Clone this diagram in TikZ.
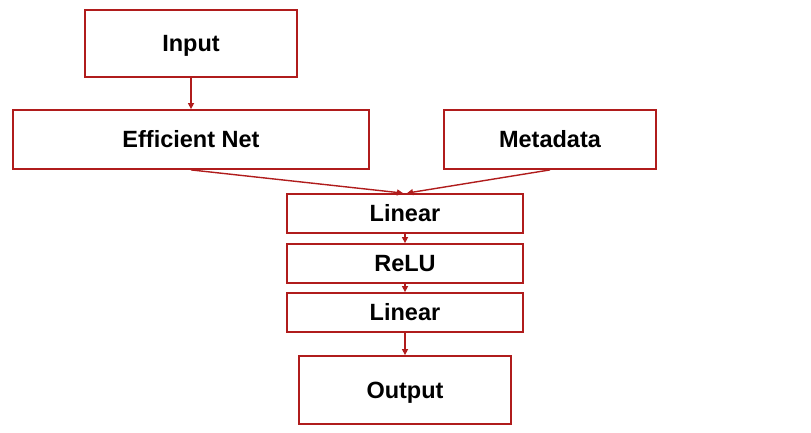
\documentclass[tikz,border=0pt]{standalone}
\usepackage{fontspec}
\setmainfont{Liberation Sans}
\usetikzlibrary{arrows.meta}
\definecolor{boxred}{HTML}{B01C1C}
\begin{document}
\begin{tikzpicture}[x=1pt,y=-1pt,
  blk/.style={draw=boxred,line width=1.8pt,fill=white,inner sep=0pt,
    text height=16.8pt,text depth=0pt,
    font=\fontsize{23.5}{27}\selectfont\bfseries,text=black},
  conn/.style={draw=boxred,line width=1.4pt,-{Triangle[length=6pt,width=6pt]}}]
\useasboundingbox (0,0) rectangle (811,432);
\node[blk,minimum width=212pt,minimum height=67pt] (in) at (191,43.5) {Input};
\node[blk,minimum width=356pt,minimum height=59pt] (eff) at (191,139.5) {Efficient Net};
\node[blk,minimum width=212pt,minimum height=59pt] (meta) at (550,139.5) {Metadata};
\node[blk,minimum width=236pt,minimum height=39pt] (lin1) at (405,213.5) {Linear};
\node[blk,minimum width=236pt,minimum height=39pt] (relu) at (405,263.5) {ReLU};
\node[blk,minimum width=236pt,minimum height=39pt] (lin2) at (405,312.5) {Linear};
\node[blk,minimum width=212pt,minimum height=68pt] (out) at (405,390) {Output};
\draw[conn] (in.south) -- (eff.north);
\draw[conn] (eff.south) -- ([xshift=-2pt]lin1.north);
\draw[conn] (meta.south) -- ([xshift=2pt]lin1.north);
\draw[conn] (lin1.south) -- (relu.north);
\draw[conn] (relu.south) -- (lin2.north);
\draw[conn] (lin2.south) -- (out.north);
\end{tikzpicture}
\end{document}
